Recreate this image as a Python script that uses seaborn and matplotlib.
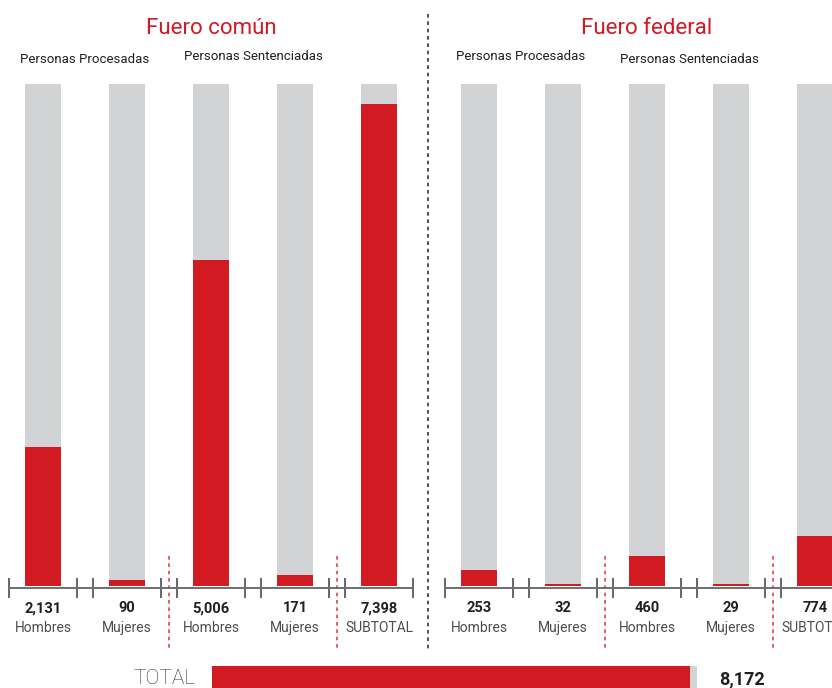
import matplotlib.pyplot as plt
import seaborn as sns
from matplotlib.lines import Line2D

# data
categories = ["Hombres", "Mujeres", "Hombres", "Mujeres", "SUBTOTAL"]
comun = [2131, 90, 5006, 171, 7398]
federal = [253, 32, 460, 29, 774]
scale_max = 7700
total = 8172
total_max = 8300
groups = ["Personas Procesadas", "Personas Sentenciadas"]
titles = ["Fuero común", "Fuero federal"]

RED = "#D21A22"
GRAY = "#D1D3D4"
DARK = "#231F20"
MID = "#4D4D4F"
W, H = 832, 688

sns.set_style("white")
plt.rcParams["font.family"] = ["Roboto", "DejaVu Sans"]

fig = plt.figure(figsize=(W / 100, H / 100), dpi=100)


def px_axes(x0, y0, x1, y1):
    # axes from pixel box (top-left origin)
    return fig.add_axes([x0 / W, 1 - y1 / H, (x1 - x0) / W, (y1 - y0) / H])


def panel(ax, values, title, grp_y):
    pos = list(range(len(values)))
    sns.barplot(x=pos, y=[scale_max] * len(values), color=GRAY, width=0.43,
                saturation=1, linewidth=0, ax=ax)
    sns.barplot(x=pos, y=values, color=RED, width=0.43, saturation=1,
                linewidth=0, ax=ax)
    ax.set_xlim(-0.5, 4.5)
    # small gap so the baseline sits just under the bars
    ax.set_ylim(-25, scale_max)
    ax.set_yticks([])
    for s in ["top", "left", "right"]:
        ax.spines[s].set_visible(False)
    ax.spines["bottom"].set_color("#6D6E71")
    ax.spines["bottom"].set_linewidth(1.4)
    ax.spines["bottom"].set_bounds(-0.4, 4.4)
    edges = [p + d for p in pos for d in (-0.4, 0.4)]
    ax.set_xticks(edges)
    ax.set_xticklabels([])
    ax.tick_params(axis="x", bottom=True, direction="inout", length=15,
                   width=1.2, color="#4D4D4F")
    ax.set_xlabel("")
    ax.set_ylabel("")
    tr = ax.get_xaxis_transform()
    for p, v, c in zip(pos, values, categories):
        ax.text(p, -0.040, f"{v:,}", transform=tr, ha="center", va="center",
                fontsize=10.5, fontweight="bold", color=DARK)
        ax.text(p, -0.080, c, transform=tr, ha="center", va="center",
                fontsize=10, color=MID)
    for x in (1.5, 3.5):
        ax.plot([x, x], [0.064, -0.125], transform=tr, color="#E5414B",
                lw=1.2, ls=(0, (2.2, 2.2)), clip_on=False)
    ax.text(2, 1.110, title, transform=tr, ha="center", va="center",
            fontsize=16, color=RED)
    for gx, gy, g in zip((0.5, 2.5), grp_y, groups):
        ax.text(gx, gy, g, transform=tr, ha="center", va="center",
                fontsize=9.5, color=DARK)


ax1 = px_axes(1, 84, 421, 588)
panel(ax1, comun, titles[0], (1.048, 1.054))
ax2 = px_axes(437, 84, 857, 588)
panel(ax2, federal, titles[1], (1.054, 1.048))

# divider between panels
fig.add_artist(Line2D([428 / W, 428 / W], [1 - 14 / H, 1 - 650 / H],
                      color="#333333", lw=1.2, ls=(0, (2.2, 2.2))))

# total bar
ax3 = px_axes(212, 666, 697, 700)
sns.barplot(x=[total_max], y=["TOTAL"], orient="h", color=GRAY, width=1,
            saturation=1, linewidth=0, ax=ax3)
sns.barplot(x=[total], y=["TOTAL"], orient="h", color=RED, width=1,
            saturation=1, linewidth=0, ax=ax3)
ax3.set_xlim(0, total_max)
ax3.set_ylim(0.5, -0.5)
ax3.axis("off")
fig.text(196 / W, 1 - 678 / H, "TOTAL", ha="right", va="center", fontsize=15,
         fontweight="light", color="#333333")
fig.text(742 / W, 1 - 679 / H, f"{total:,}", ha="center", va="center",
         fontsize=13, fontweight="bold", color=DARK)

fig.savefig("out.png", dpi=100, facecolor="w")
